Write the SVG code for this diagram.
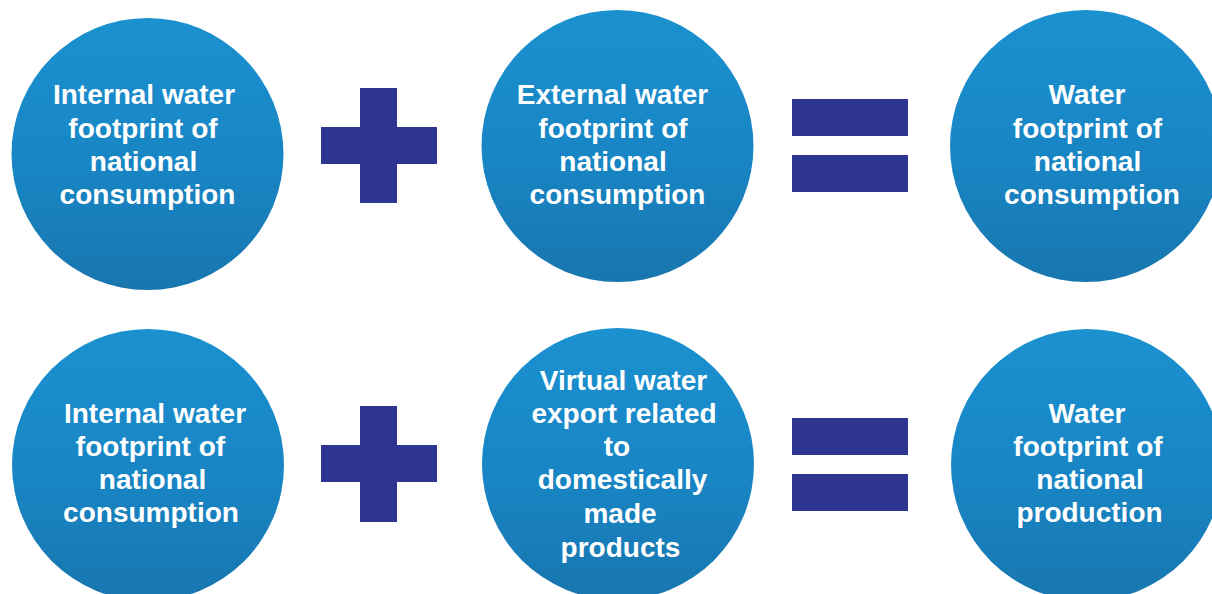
<svg xmlns="http://www.w3.org/2000/svg" width="1212" height="594" viewBox="0 0 1212 594">
  <defs>
    <linearGradient id="disc" x1="0" y1="0" x2="0" y2="1">
      <stop offset="0" stop-color="#1b91d0"/>
      <stop offset="0.55" stop-color="#1885c4"/>
      <stop offset="1" stop-color="#1876ae"/>
    </linearGradient>
  </defs>
  <style>
    .disc { fill: url(#disc); }
    .op { fill: #2e3591; }
    .lbl { font-family: "Liberation Sans", Arial, sans-serif; font-weight: bold; font-size: 28px; fill: #ffffff; text-anchor: middle; }
  </style>
  <rect width="1212" height="594" fill="#ffffff"/>

  <!-- Row 1: consumption footprint -->
  <g id="internal-consumption-1">
    <circle class="disc" cx="147.5" cy="154" r="136"/>
    <text class="lbl"><tspan x="144" y="104">Internal water</tspan><tspan x="143" y="137.5">footprint of</tspan><tspan x="143.5" y="171">national</tspan><tspan x="147.5" y="204">consumption</tspan></text>
  </g>
  <g id="external-consumption">
    <circle class="disc" cx="617.5" cy="146" r="136"/>
    <text class="lbl"><tspan x="612.5" y="104">External water</tspan><tspan x="613" y="137.5">footprint of</tspan><tspan x="613" y="171">national</tspan><tspan x="617.5" y="204">consumption</tspan></text>
  </g>
  <g id="footprint-consumption">
    <circle class="disc" cx="1086" cy="146" r="136"/>
    <text class="lbl"><tspan x="1087" y="104">Water</tspan><tspan x="1087.5" y="137.5">footprint of</tspan><tspan x="1087.5" y="171">national</tspan><tspan x="1092" y="204">consumption</tspan></text>
  </g>

  <!-- Row 2: production footprint -->
  <g id="internal-consumption-2">
    <circle class="disc" cx="148" cy="465" r="136"/>
    <text class="lbl"><tspan x="155" y="423">Internal water</tspan><tspan x="150.5" y="456">footprint of</tspan><tspan x="152.5" y="489">national</tspan><tspan x="151" y="522">consumption</tspan></text>
  </g>
  <g id="virtual-export">
    <circle class="disc" cx="618" cy="464" r="136"/>
    <text class="lbl"><tspan x="623.5" y="390">Virtual water</tspan><tspan x="624" y="423">export related</tspan><tspan x="617" y="456">to</tspan><tspan x="622.5" y="489">domestically</tspan><tspan x="620" y="523">made</tspan><tspan x="620.5" y="557">products</tspan></text>
  </g>
  <g id="footprint-production">
    <circle class="disc" cx="1087" cy="465" r="136"/>
    <text class="lbl"><tspan x="1087" y="423">Water</tspan><tspan x="1088" y="456">footprint of</tspan><tspan x="1090" y="489">national</tspan><tspan x="1089.5" y="522">production</tspan></text>
  </g>

  <!-- Operators between the discs -->
  <g id="operators">
    <g id="plus-1">
      <rect class="op" x="360" y="88" width="37" height="115"/>
      <rect class="op" x="321" y="127" width="116" height="37"/>
    </g>
    <g id="equals-1">
      <rect class="op" x="792" y="99" width="116" height="37"/>
      <rect class="op" x="792" y="155" width="116" height="37"/>
    </g>
    <g id="plus-2">
      <rect class="op" x="360" y="406" width="37" height="116"/>
      <rect class="op" x="321" y="445" width="116" height="37"/>
    </g>
    <g id="equals-2">
      <rect class="op" x="792" y="418" width="116" height="37"/>
      <rect class="op" x="792" y="474" width="116" height="37"/>
    </g>
  </g>
</svg>
